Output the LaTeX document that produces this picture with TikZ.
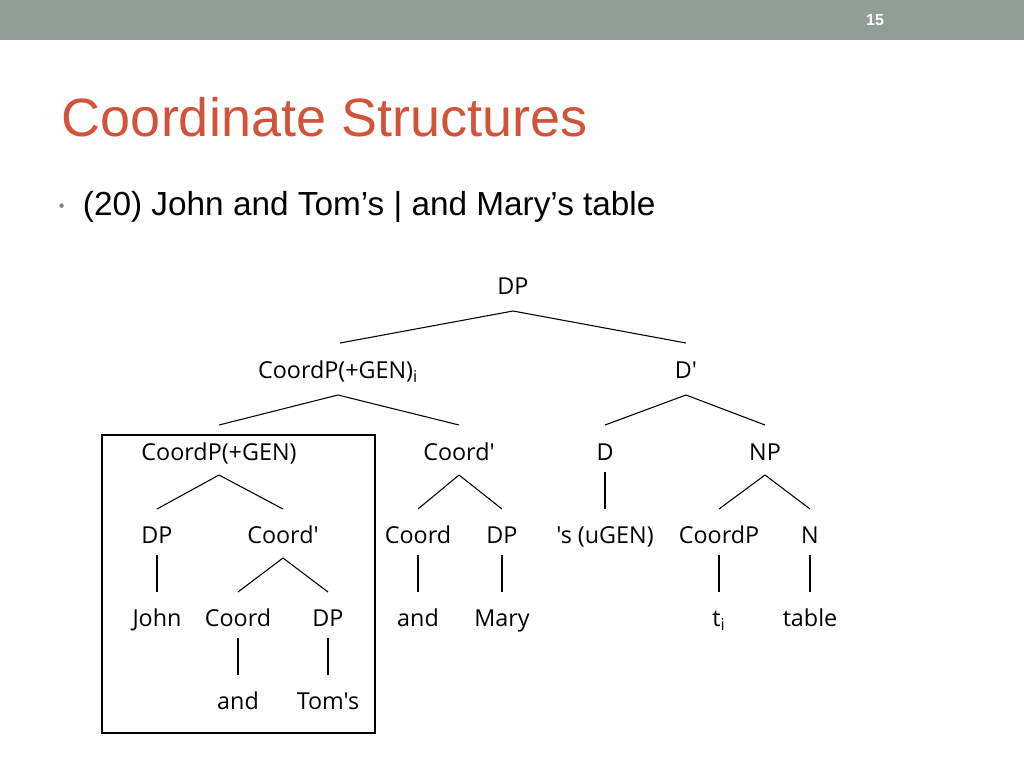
\documentclass[tikz,border=0pt]{standalone}
\usepackage{fontspec}
\setmainfont{Liberation Sans}
\newfontfamily\treefont{Open Sans}
\usetikzlibrary{calc}
\definecolor{barg}{HTML}{8F9E96}
\definecolor{titler}{HTML}{D0533A}
\newcommand{\br}[2]{\draw ($(#1)+(0,21)$) -- ($(#2)+(0,-28)$);}
\begin{document}
\begin{tikzpicture}[x=0.75pt,y=-0.75pt,line width=0.8pt,
  t/.style={font=\treefont\fontsize{17.5}{19}\selectfont,inner sep=0pt,text height=12pt,text depth=3pt,anchor=center,yshift=-1.5pt}]
\useasboundingbox (0,0) rectangle (1024,768);
\fill[barg] (0,0) rectangle (1024,40);
\node[text=white,font=\bfseries\fontsize{12}{14}\selectfont] (pg) at (875,20) {15};
\node[anchor=west,text=titler,font=\fontsize{40.5}{46}\selectfont] (ti) at (57,117) {Coordinate Structures};
\node[anchor=west,text=gray,font=\fontsize{12}{14}\selectfont] (bl) at (54,208) {•};
\node[anchor=west,font=\fontsize{25}{29}\selectfont] (bu) at (78,207) {(20) John and Tom’s | and Mary’s table};
\node[t] (a) at (513,286) {DP};
\node[t] (b) at (338,370) {CoordP(+GEN)\textsubscript{i}};
\node[t] (c) at (686,370) {D'};
\node[t] (d) at (219,452) {CoordP(+GEN)};
\node[t] (e) at (459,452) {Coord'};
\node[t] (f) at (605,452) {D};
\node[t] (g) at (765,452) {NP};
\node[t] (h) at (157,535) {DP};
\node[t] (i) at (283,535) {Coord'};
\node[t] (j) at (418,535) {Coord};
\node[t] (k) at (502,535) {DP};
\node[t] (l) at (605,535) {'s (uGEN)};
\node[t] (m) at (719,535) {CoordP};
\node[t] (n) at (810,535) {N};
\node[t] (o) at (157,618) {John};
\node[t] (p) at (238,618) {Coord};
\node[t] (q) at (328,618) {DP};
\node[t] (r) at (418,618) {and};
\node[t] (s) at (502,618) {Mary};
\node[t] (u) at (719,618) {t\textsubscript{i}};
\node[t] (v) at (810,618) {table};
\node[t] (w) at (238,701) {and};
\node[t] (x) at (328,701) {Tom's};
\draw ($(a)+(0,23)$) -- ($(b)+(2,-29)$);
\draw ($(a)+(0,23)$) -- ($(c)+(0,-29)$);
\draw ($(b)+(0,23)$) -- ($(d)+(0,-29)$);
\draw ($(b)+(0,23)$) -- ($(e)+(0,-29)$);
\draw ($(c)+(0,23)$) -- ($(f)+(0,-29)$);
\draw ($(c)+(0,23)$) -- ($(g)+(0,-29)$);
\br{d}{h}\br{d}{i}\br{e}{j}\br{e}{k}\br{g}{m}\br{g}{n}
\draw ($(f)+(0,18)$) -- ($(l)+(0,-28)$);
\br{i}{p}\br{i}{q}
\foreach \u/\v in {h/o,j/r,k/s,m/u,n/v,p/w,q/x}{\draw ($(\u)+(0,18)$) -- ($(\v)+(0,-28)$);}
\draw[line width=1.5pt] (102,435) rectangle (375,733);
\end{tikzpicture}
\end{document}
